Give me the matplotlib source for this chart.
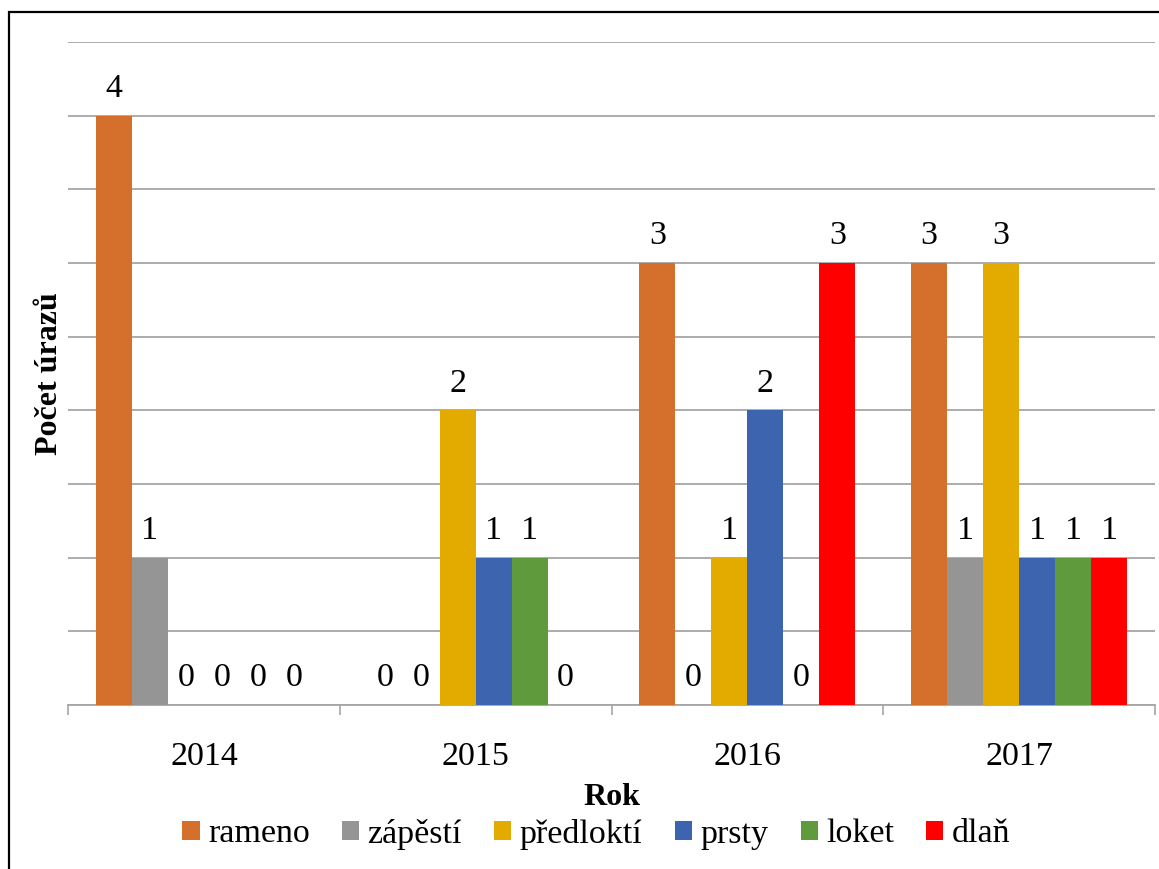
import matplotlib
matplotlib.use("Agg")
import matplotlib.pyplot as plt
from matplotlib.patches import Rectangle, Patch
import numpy as np

years = ["2014", "2015", "2016", "2017"]
injury_types = ["rameno", "zápěstí", "předloktí", "prsty", "loket", "dlaň"]
rameno = [4, 0, 3, 3]
zapesti = [1, 0, 0, 1]
predlokti = [0, 2, 1, 3]
prsty = [0, 1, 2, 1]
loket = [0, 1, 0, 1]
dlan = [0, 0, 3, 1]
series = [rameno, zapesti, predlokti, prsty, loket, dlan]
colors = ["#D46F2C", "#959595", "#E3AB00", "#3D64AE", "#5F9A3D", "#FF0000"]

plt.rcParams["font.family"] = ["Liberation Serif", "DejaVu Serif"]

fig = plt.figure(figsize=(11.59, 8.69), dpi=100)
ax = fig.add_axes([68 / 1159, 1 - 705 / 869, (1155 - 68) / 1159, (705 - 42) / 869])

x = np.arange(len(years))
width = 0.1325
for i, (vals, col) in enumerate(zip(series, colors)):
    pos = x + (i - 2.5) * width
    ax.bar(pos, vals, width=width, color=col, zorder=3)
    for px, v in zip(pos, vals):
        ax.annotate(str(v), (px, v), xytext=(0, 13.5), textcoords="offset points",
                    ha="center", va="baseline", fontsize=24.5, color="black")

ax.set_xlim(-0.5, 3.5)
ax.set_ylim(0, 4.5)
ax.set_yticks(np.arange(0, 4.51, 0.5))
ax.set_yticklabels([])
ax.tick_params(axis="y", length=0)
ax.yaxis.grid(True, color="#A6A6A6", linewidth=1.3, zorder=0)
ax.set_axisbelow(True)

ax.set_xticks(x)
ax.set_xticklabels(years, fontsize=24.5)
ax.set_xticks(np.arange(-0.5, 4.0, 1.0), minor=True)
ax.tick_params(axis="x", which="major", length=0, pad=26)
ax.tick_params(axis="x", which="minor", length=7, width=1.2, color="#A6A6A6")

for s in ["top", "right", "left"]:
    ax.spines[s].set_visible(False)
ax.spines["bottom"].set_color("#A6A6A6")
ax.spines["bottom"].set_linewidth(1.3)

ax.set_xlabel("Rok", fontsize=23, fontweight="bold", labelpad=8)
ax.set_ylabel("Počet úrazů", fontsize=23, fontweight="bold", va="center",
              rotation_mode="anchor")
ax.yaxis.set_label_coords(-18 / 1087, 0.5)

handles = [Patch(facecolor=c, edgecolor="none") for c in colors]
fig.legend(handles, injury_types, loc="center", bbox_to_anchor=(0.5 + 17 / 1159, 1 - 834 / 869),
           ncol=6, frameon=False, fontsize=24.5, handlelength=0.5, handleheight=0.5,
           handletextpad=0.25, columnspacing=0.95)

# outer chart frame (top and left edges visible)
fig.patches.append(Rectangle((9 / 1159, -0.1), 1.2, 1 - 12 / 869 + 0.1,
                             transform=fig.transFigure, fill=False,
                             edgecolor="black", linewidth=1.6))

fig.savefig("out.png", dpi=100)
